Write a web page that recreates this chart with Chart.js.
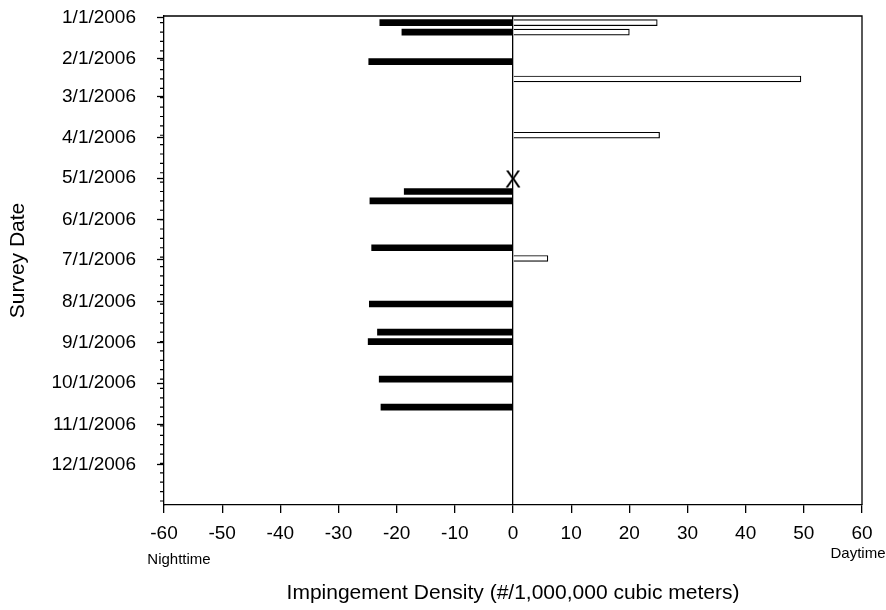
<!DOCTYPE html>
<html><head><meta charset="utf-8">
<script src="https://cdn.jsdelivr.net/npm/chart.js@4/dist/chart.umd.min.js"></script>
<style>html,body{margin:0;padding:0;background:#fff;overflow:hidden}</style>
</head><body>
<canvas id="c" width="886" height="610"></canvas>
<script>
// ---- data ----
const nightDates  = ['2006-01-05','2006-01-12','2006-02-03','2006-05-11','2006-05-18','2006-06-22','2006-08-03','2006-08-24','2006-08-31','2006-09-28','2006-10-19'];
const nightValues = [-22.9, -19.1, -24.8, -18.7, -24.6, -24.3, -24.7, -23.3, -24.9, -23.0, -22.7];
const dayDates    = ['2006-01-05','2006-01-12','2006-02-16','2006-03-30','2006-06-30'];
const dayValues   = [24.8, 20.0, 49.5, 25.2, 6.0];
const markerDates = ['2006-05-02'];
const markerValues = [0];
const monthTickLabels = ['1/1/2006','2/1/2006','3/1/2006','4/1/2006','5/1/2006','6/1/2006','7/1/2006','8/1/2006','9/1/2006','10/1/2006','11/1/2006','12/1/2006'];
const xTickLabels = [-60,-50,-40,-30,-20,-10,0,10,20,30,40,50,60];

const ORIGIN = Date.UTC(2006,0,1);
function dayOf(iso){ const p = iso.split('-').map(Number); return (Date.UTC(p[0],p[1]-1,p[2])-ORIGIN)/86400000; }
function dayOfLabel(l){ const p = l.split('/').map(Number); return (Date.UTC(p[2],p[0]-1,p[1])-ORIGIN)/86400000; }
const monthTickDays = monthTickLabels.map(dayOfLabel);

const FONT = "'Liberation Sans', Arial, sans-serif";
Chart.defaults.font.family = FONT;
Chart.defaults.color = '#000';

// "X" marker glyph used as point style
const xMark = document.createElement('canvas');
xMark.width = 22; xMark.height = 22;
(function(){
  const g = xMark.getContext('2d');
  g.fillStyle = '#000';
  g.font = '24px ' + FONT;
  g.textAlign = 'center';
  g.textBaseline = 'middle';
  g.fillText('X', 11, 12);
})();

const framePlugin = {
  id: 'frame',
  afterDraw(chart){
    const {ctx, chartArea:a, scales} = chart;
    ctx.save();
    ctx.strokeStyle = '#000';
    ctx.lineWidth = 1.3;
    ctx.beginPath();
    ctx.moveTo(a.left, a.top); ctx.lineTo(a.right, a.top); ctx.lineTo(a.right, a.bottom);
    ctx.stroke();
    // weekly minor ticks on the date axis
    const ys = scales.y;
    ctx.lineWidth = 1.2;
    ctx.beginPath();
    for (let d = 4; d <= ys.max; d += 7) {
      const py = ys.getPixelForValue(d);
      ctx.moveTo(a.left - 4, py); ctx.lineTo(a.left, py);
    }
    ctx.stroke();
    // side labels
    ctx.fillStyle = '#000';
    ctx.font = '15px ' + FONT;
    ctx.textAlign = 'center';
    ctx.textBaseline = 'alphabetic';
    const xs = scales.x;
    ctx.fillText('Nighttime', xs.getPixelForValue(-60) + 15, 564);
    ctx.fillText('Daytime', xs.getPixelForValue(60) - 4, 558);
    ctx.restore();
  }
};

new Chart(document.getElementById('c'), {
  type: 'bar',
  data: {
    datasets: [
      { label: 'Nighttime', data: nightDates.map((d,i)=>({x: nightValues[i], y: dayOf(d)})),
        backgroundColor: '#000', borderWidth: 0, barThickness: 6, grouped: false },
      { label: 'Daytime', data: dayDates.map((d,i)=>({x: dayValues[i], y: dayOf(d)})),
        backgroundColor: '#fff', borderColor: '#000', borderWidth: 1.2, barThickness: 6, grouped: false },
      { type: 'scatter', label: 'No sample', data: markerDates.map((d,i)=>({x: markerValues[i], y: dayOf(d)})),
        pointStyle: xMark, radius: 11 }
    ]
  },
  options: {
    indexAxis: 'y',
    responsive: false,
    animation: false,
    layout: { padding: { top: 16, right: 24, left: 0, bottom: 0 } },
    plugins: { legend: { display: false }, tooltip: { enabled: false } },
    scales: {
      x: {
        type: 'linear', min: xTickLabels[0], max: xTickLabels[xTickLabels.length-1], offset: false,
        afterBuildTicks: s => { s.ticks = xTickLabels.map(v => ({value: v})); },
        ticks: { font: { size: 19 }, padding: 9, color: '#000', autoSkip: false, maxRotation: 0 },
        grid: { offset: false, drawOnChartArea: true,
                color: c => (c.tick && c.tick.value === 0) ? '#000' : 'rgba(0,0,0,0)',
                lineWidth: 1.3, tickColor: '#000', tickLength: 8, tickWidth: 1.3 },
        border: { color: '#000', width: 1.3 },
        title: { display: true, text: 'Impingement Density (#/1,000,000 cubic meters)', font: { size: 21 }, color: '#000', padding: { top: 0, bottom: 4 } },
        afterFit: s => { s.height = 105; s.paddingLeft = 0; s.paddingRight = 0; }
      },
      y: {
        type: 'linear', reverse: true, min: -1, max: 364, offset: false,
        afterBuildTicks: s => { s.ticks = monthTickDays.map(v => ({value: v})); },
        ticks: { callback: v => monthTickLabels[monthTickDays.indexOf(v)], font: { size: 19 }, padding: 21, autoSkip: false, color: '#000' },
        grid: { offset: false, drawOnChartArea: false, tickColor: '#000', tickLength: 7, tickWidth: 1.3 },
        border: { color: '#000', width: 1.3 },
        title: { display: true, text: 'Survey Date', font: { size: 21 }, color: '#000', padding: { top: 6, bottom: 0 } },
        afterFit: s => { s.width = 164; s.paddingTop = 0; s.paddingBottom = 0; }
      }
    }
  },
  plugins: [framePlugin]
});
</script>
</body></html>
